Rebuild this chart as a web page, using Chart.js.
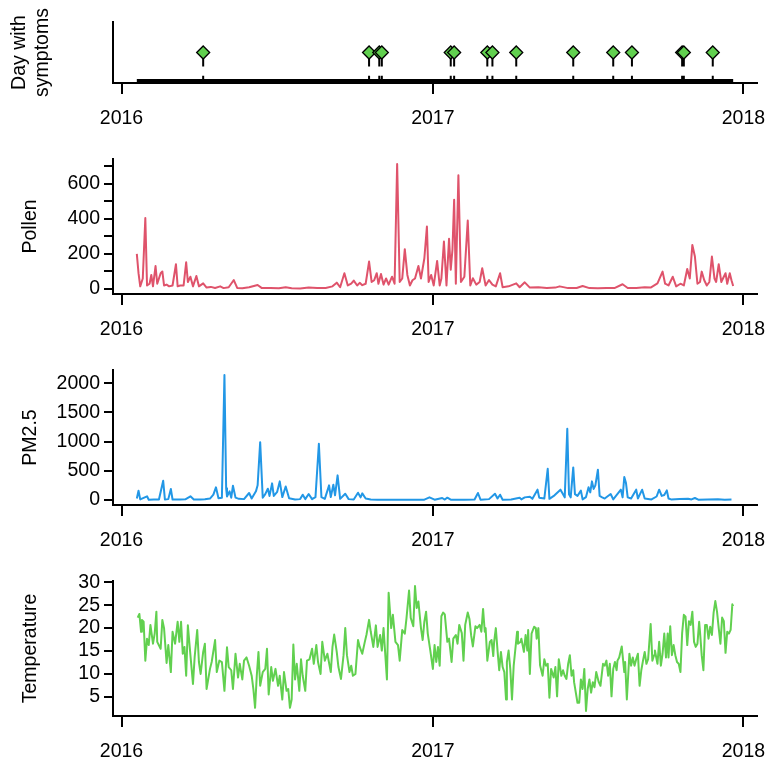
<!DOCTYPE html>
<html>
<head>
<meta charset="utf-8">
<script src="https://cdn.jsdelivr.net/npm/chart.js@4.4.0/dist/chart.umd.min.js"></script>
<style>
body{margin:0;background:#fff;width:766px;height:765px;overflow:hidden;position:relative}
canvas{position:absolute;left:0}
</style>
</head>
<body>
<canvas id="c1"></canvas>
<canvas id="c2"></canvas>
<canvas id="c3"></canvas>
<canvas id="c4"></canvas>
<script>
// days counted from 2016-01-01
var yearTicks = [0, 366, 731];
var yearLabels = ['2016', '2017', '2018'];

var symptomDays = [96, 291, 303, 306, 387, 391, 430, 436, 464, 531, 578, 600, 659, 661, 695];

var pollenDays = [18,20,22,25,28,30,33,35,37,40,42,44,46,48,50,53,56,60,64,66,69,73,76,78,81,84,88,91,96,100,105,110,116,120,126,132,136,142,150,160,165,175,185,193,200,210,220,230,240,248,253,257,262,266,270,273,277,280,283,287,291,294,297,300,302,305,308,311,314,318,321,324,327,330,333,336,339,342,345,349,352,356,359,361,364,367,371,374,376,379,382,385,387,389,391,393,396,399,403,407,410,413,417,421,424,428,432,436,440,445,448,455,464,468,474,480,490,500,510,515,525,535,542,550,560,570,580,589,595,605,615,622,630,636,639,643,648,652,657,661,665,668,671,674,677,680,682,685,688,691,694,697,699,702,705,707,710,712,715,717,719];
var pollenValues = [200,90,15,60,404,20,30,80,15,131,30,60,90,100,20,25,15,20,141,15,20,20,152,40,70,15,74,15,32,8,12,6,15,5,10,51,6,4,10,23,5,6,4,10,4,3,8,5,6,15,36,10,90,20,30,48,20,35,22,30,156,40,50,90,30,85,25,60,25,70,30,712,40,60,227,80,20,50,60,131,60,175,356,40,80,20,160,20,60,270,20,286,110,223,508,30,648,40,70,390,20,61,25,40,118,20,51,25,15,90,10,15,32,10,38,8,10,5,8,15,5,6,17,5,4,5,6,27,6,5,10,8,32,99,30,20,70,15,30,20,114,60,251,185,30,40,99,50,20,40,185,60,40,141,40,60,90,30,90,50,17];
var pollenTicks = [0, 100, 200, 300, 400, 500, 600, 700];
var pollenTickLabels = ['0', '', '200', '', '400', '', '600', ''];

var pmDays = [18,20,22,30,32,38,44,49,51,55,58,60,69,75,81,85,93,98,104,108,111,114,118,121,123,124,127,129,131,134,138,144,150,153,158,160,163,166,169,172,174,177,179,183,186,189,193,197,204,210,213,216,220,224,228,232,235,239,244,246,249,251,254,257,263,267,273,278,281,283,287,293,301,312,328,344,356,362,368,377,380,383,387,403,415,419,422,432,439,442,445,448,458,468,470,474,480,483,489,491,497,501,503,509,516,519,521,524,526,528,531,533,536,540,542,546,549,551,553,555,557,560,562,565,568,575,578,584,587,589,591,593,595,599,605,607,612,615,623,629,632,635,638,641,643,646,656,666,670,674,678,689,701,709,717];
var pmValues = [27,160,10,63,5,8,10,330,10,15,188,8,10,12,63,8,10,12,25,91,217,30,40,2142,200,60,148,40,245,40,20,15,120,25,148,251,991,40,100,194,70,285,70,140,319,50,231,30,10,15,91,15,103,15,50,963,50,20,251,50,262,80,422,20,108,15,10,125,45,114,25,10,5,5,3,5,5,45,5,34,8,40,5,3,8,120,5,15,108,25,91,5,8,40,10,45,57,20,177,40,25,535,20,80,177,100,45,1219,100,45,558,100,70,160,10,50,217,130,319,190,250,518,70,45,25,103,10,120,177,45,393,291,45,25,177,25,177,25,10,60,177,70,85,165,25,10,15,23,10,34,5,8,12,5,8];
var pmTicks = [0, 500, 1000, 1500, 2000];

var tempDays = [19,21,23,24,26,28,30,32,34,37,39,41,42,46,48,50,53,55,58,60,63,66,68,70,72,74,76,78,81,84,86,89,91,93,96,98,100,104,106,110,112,115,118,121,124,126,129,131,134,137,139,142,144,147,150,153,155,157,159,161,163,166,169,171,173,176,178,181,184,186,189,191,194,196,198,200,202,204,206,209,211,213,216,218,221,224,226,229,231,234,236,239,242,246,248,250,253,255,258,261,263,265,268,270,272,275,278,280,283,286,288,291,293,296,299,301,304,306,308,312,314,317,319,322,325,327,330,333,335,338,340,343,345,347,349,352,354,356,358,360,363,366,368,370,372,374,376,378,380,383,385,388,390,393,395,397,400,402,404,407,409,411,413,416,418,421,423,425,427,428,430,433,435,437,438,440,442,444,446,448,450,452,453,455,457,459,461,463,465,466,469,470,473,475,477,478,480,482,485,487,488,490,492,495,497,499,501,503,505,508,510,512,514,517,519,521,523,525,527,529,531,532,536,538,540,542,544,546,548,550,552,554,556,558,561,563,566,568,570,572,574,576,578,580,582,583,585,588,591,592,594,597,599,601,603,605,607,609,611,613,615,617,619,622,624,626,627,630,632,634,636,638,640,642,643,645,647,649,651,653,655,657,659,661,663,665,667,669,671,673,675,677,679,680,682,684,686,688,690,692,694,696,698,700,702,704,706,708,710,712,714,716,718,719];
var tempValues = [22.3,23.1,19.2,21.8,21.4,12.9,17.7,16.3,20.7,16.6,18.8,23.6,17.0,15.5,21.8,20.0,12.4,16.3,10.4,19.2,16.6,21.4,17.0,21.4,14.4,15.9,9.6,20.6,14.1,7.8,13.7,19.6,12.6,10.0,14.8,16.6,6.7,11.1,12.6,17.4,10.4,12.9,12.6,6.3,15.8,11.5,10.8,6.7,14.4,9.2,12.2,8.8,12.9,13.6,11.8,9.6,6.7,2.6,9.6,14.8,7.4,10.4,11.1,15.5,5.5,11.5,8.5,11.1,7.4,9.6,4.4,10.4,6.3,6.7,2.6,4.4,16.4,8.8,12.2,6.3,13.2,9.6,6.3,12.9,13.2,15.5,12.2,16.3,12.6,10.0,17.0,12.9,14.4,10.4,15.9,18.6,14.8,11.5,8.9,14.1,20.0,14.1,10.4,11.8,9.6,10.0,17.4,15.9,14.4,17.0,18.6,21.8,19.2,15.9,20.6,15.9,18.5,15.1,20.0,8.8,27.7,20.0,22.9,17.0,16.3,12.9,19.6,18.8,22.2,28.2,22.2,20.4,29.2,24.4,25.8,20.0,17.4,21.4,23.6,18.8,15.1,11.1,16.3,12.6,15.9,11.8,22.6,23.4,23.0,17.0,17.7,12.6,17.7,18.5,16.6,20.7,18.9,12.9,20.7,23.4,22.0,18.4,16.0,20.4,20.0,20.7,19.2,24.2,19.2,20.0,12.9,17.0,17.4,13.9,17.0,20.0,15.1,10.8,14.8,11.5,10.4,4.4,12.6,15.1,11.1,4.4,11.8,15.5,19.2,16.6,17.0,17.7,14.8,18.5,15.1,19.6,10.0,18.8,20.3,20.0,17.7,20.0,11.9,9.6,13.2,11.8,12.2,4.8,11.1,9.2,11.5,5.1,13.2,9.6,10.8,9.6,8.9,12.2,14.1,9.6,10.8,8.2,3.7,3.7,8.8,6.7,11.1,1.9,6.7,8.8,5.9,8.2,7.1,10.4,8.2,7.4,12.2,11.8,12.9,9.6,12.2,5.1,11.1,12.6,10.8,12.9,13.6,16.0,10.4,12.6,4.4,14.4,11.8,13.6,11.8,13.2,14.4,7.4,10.8,12.9,14.8,12.2,13.2,20.9,12.9,14.1,15.1,12.2,17.0,11.8,14.4,18.8,13.6,18.8,13.6,20.4,14.1,16.3,14.1,12.6,12.2,10.4,18.9,22.9,22.5,16.3,21.5,20.7,23.6,17.0,15.9,16.6,21.4,19.2,14.1,10.8,20.7,20.7,17.7,20.3,18.5,23.4,25.9,23.6,20.0,16.6,22.3,21.5,14.6,19.2,18.8,19.6,25.2,24.8];
var tempTicks = [5, 10, 15, 20, 25, 30];

Chart.defaults.font.family = '"Liberation Sans", Arial, sans-serif';
Chart.defaults.font.size = 19.5;
Chart.defaults.color = '#000';
Chart.defaults.animation = false;

var PAD_TOP = 20;
var EXTRA_W = 24; // canvas runs past the window so the last year label fits

function pts(days, vals) {
  return days.map(function (d, i) { return {x: d, y: vals[i]}; });
}

function xAxis() {
  return {
    type: 'linear', min: -10, max: 747, offset: false,
    afterBuildTicks: function (s) { s.ticks = yearTicks.map(function (v) { return {value: v}; }); },
    afterFit: function (s) { s.height = 50; },
    border: {display: true, color: '#000', width: 2},
    grid: {offset: false, drawOnChartArea: false, drawTicks: true, tickLength: 11, color: '#000', lineWidth: 2},
    ticks: {autoSkip: false, maxRotation: 0, padding: 13, callback: function (v, i) { return yearLabels[i]; }}
  };
}

function yAxis(title, titlePad, min, max, tickVals, tickLabels) {
  var ax = {
    type: 'linear', min: min, max: max,
    afterFit: function (s) { s.width = 113; },
    border: {display: true, color: '#000', width: 2},
    title: {display: true, text: title, padding: {top: titlePad, bottom: 0}, font: {size: 19.5, lineHeight: 1.2}},
    grid: {drawOnChartArea: false, drawTicks: false, color: '#000', lineWidth: 2},
    ticks: {display: false}
  };
  if (tickVals) {
    ax.afterBuildTicks = function (s) { s.ticks = tickVals.map(function (v) { return {value: v}; }); };
    ax.grid.drawTicks = true;
    ax.grid.tickLength = 9;
    ax.ticks = {display: true, autoSkip: false, padding: 4, callback: function (v, i) { return tickLabels[i]; }};
  }
  return ax;
}

function panel(id, areaTop, areaH, datasets, yOpts) {
  var cv = document.getElementById(id);
  cv.width = 766 + EXTRA_W;
  cv.height = PAD_TOP + areaH + 50;
  cv.style.top = (areaTop - PAD_TOP) + 'px';
  return new Chart(cv, {
    type: 'scatter',
    data: {datasets: datasets},
    options: {
      responsive: false,
      devicePixelRatio: 1,
      layout: {padding: {top: PAD_TOP, right: 9 + EXTRA_W, bottom: 0, left: 0}},
      plugins: {legend: {display: false}, tooltip: {enabled: false}},
      scales: {x: xAxis(), y: yOpts}
    }
  });
}

function seriesLine(days, vals, color) {
  return {type: 'line', data: pts(days, vals), borderColor: color, borderWidth: 2,
    pointRadius: 0, tension: 0, borderJoinStyle: 'round', fill: false};
}

// panel 1: days with symptoms; stems drawn as broken line segments
var stems = [];
symptomDays.forEach(function (d) {
  stems.push({x: d, y: -0.08}, {x: d, y: 0.18}, {x: d, y: null},
             {x: d, y: 0.5}, {x: d, y: 1}, {x: d, y: null});
});
var rugLine = [{x: pollenDays[0], y: 0}, {x: pollenDays[pollenDays.length - 1], y: 0}];
var marks = symptomDays.map(function (d) { return {x: d, y: 1}; });

panel('c1', 22, 61, [
  {type: 'scatter', data: marks, pointStyle: 'rectRot', pointRadius: 6.5,
    backgroundColor: '#61D04F', borderColor: '#000', borderWidth: 1.3, order: 0},
  {type: 'line', data: rugLine, borderColor: '#000', borderWidth: 3.5, pointRadius: 0, order: 1},
  {type: 'line', data: stems, borderColor: '#000', borderWidth: 2, pointRadius: 0,
    spanGaps: false, borderCapStyle: 'butt', order: 2}
], yAxis(['Day with', 'symptoms'], 8, -0.08, 2.08, null, null));

panel('c2', 159, 135, [seriesLine(pollenDays, pollenValues, '#DF536B')],
  yAxis('Pollen', 19, -28.5, 740.5, pollenTicks, pollenTickLabels));

panel('c3', 370, 135, [seriesLine(pmDays, pmValues, '#2297E6')],
  yAxis('PM2.5', 19, -85.7, 2227.7, pmTicks, pmTicks.map(String)));

panel('c4', 581, 135, [seriesLine(tempDays, tempValues, '#61D04F')],
  yAxis('Temperature', 19, 0.81, 30.29, tempTicks, tempTicks.map(String)));
</script>
</body>
</html>
